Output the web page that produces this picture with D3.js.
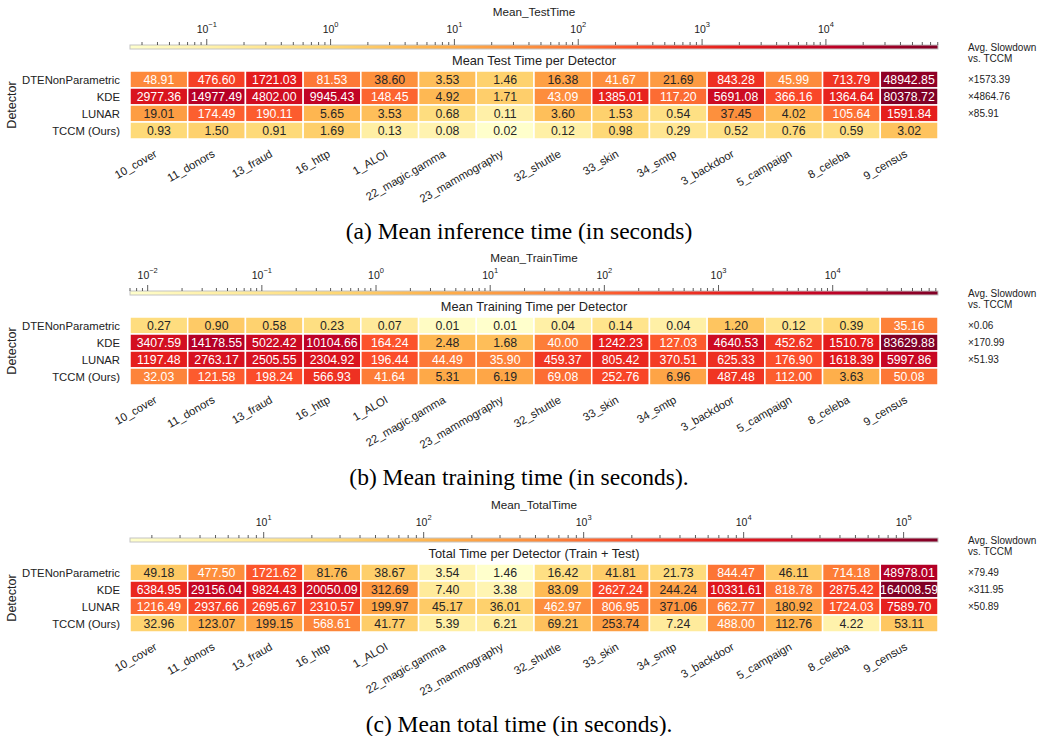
<!DOCTYPE html>
<html>
<head>
<meta charset="utf-8">
<script src="https://cdn.jsdelivr.net/npm/d3@7"></script>
<style>
  body { margin: 0; background: #fff; }
  text { font-family: "Liberation Sans", Arial, sans-serif; }
</style>
</head>
<body>
<script>
// data
var datasets = ["10_cover", "11_donors", "13_fraud", "16_http", "1_ALOI", "22_magic.gamma",
  "23_mammography", "32_shuttle", "33_skin", "34_smtp", "3_backdoor", "5_campaign", "8_celeba", "9_census"];
var detectors = ["DTENonParametric", "KDE", "LUNAR", "TCCM (Ours)"];

var testTime = [
  [48.91, 476.60, 1721.03, 81.53, 38.60, 3.53, 1.46, 16.38, 41.67, 21.69, 843.28, 45.99, 713.79, 48942.85],
  [2977.36, 14977.49, 4802.00, 9945.43, 148.45, 4.92, 1.71, 43.09, 1385.01, 117.20, 5691.08, 366.16, 1364.64, 80378.72],
  [19.01, 174.49, 190.11, 5.65, 3.53, 0.68, 0.11, 3.60, 1.53, 0.54, 37.45, 4.02, 105.64, 1591.84],
  [0.93, 1.50, 0.91, 1.69, 0.13, 0.08, 0.024, 0.12, 0.98, 0.29, 0.52, 0.76, 0.59, 3.02]
];
var trainTime = [
  [0.27, 0.90, 0.58, 0.23, 0.07, 0.01, 0.007, 0.04, 0.14, 0.04, 1.20, 0.12, 0.39, 35.16],
  [3407.59, 14178.55, 5022.42, 10104.66, 164.24, 2.48, 1.68, 40.00, 1242.23, 127.03, 4640.53, 452.62, 1510.78, 83629.88],
  [1197.48, 2763.17, 2505.55, 2304.92, 196.44, 44.49, 35.90, 459.37, 805.42, 370.51, 625.33, 176.90, 1618.39, 5997.86],
  [32.03, 121.58, 198.24, 566.93, 41.64, 5.31, 6.19, 69.08, 252.76, 6.96, 487.48, 112.00, 3.63, 50.08]
];
var totalTime = [
  [49.18, 477.50, 1721.62, 81.76, 38.67, 3.54, 1.46, 16.42, 41.81, 21.73, 844.47, 46.11, 714.18, 48978.01],
  [6384.95, 29156.04, 9824.43, 20050.09, 312.69, 7.40, 3.38, 83.09, 2627.24, 244.24, 10331.61, 818.78, 2875.42, 164008.59],
  [1216.49, 2937.66, 2695.67, 2310.57, 199.97, 45.17, 36.01, 462.97, 806.95, 371.06, 662.77, 180.92, 1724.03, 7589.70],
  [32.96, 123.07, 199.15, 568.61, 41.77, 5.39, 6.21, 69.21, 253.74, 7.24, 488.00, 112.76, 4.22, 53.11]
];
var testSlowdown = [1573.39, 4864.76, 85.91];
var trainSlowdown = [0.06, 170.99, 51.93];
var totalSlowdown = [79.49, 311.95, 50.89];

var cbTitles = ["Mean_TestTime", "Mean_TrainTime", "Mean_TotalTime"];
var titles = ["Mean Test Time per Detector", "Mean Training Time per Detector", "Total Time per Detector (Train + Test)"];
var captions = ["(a) Mean inference time (in seconds)", "(b) Mean training time (in seconds).", "(c) Mean total time (in seconds)."];

// YlOrRd (ColorBrewer 9)
var palette = ["#ffffcc", "#ffeda0", "#fed976", "#feb24c", "#fd8d3c", "#fc4e2a", "#e31a1c", "#bd0026", "#800026"];

var W = 1039, H = 736;
var x0 = 130, x1 = 938, rowH = 17;
var tops = [71, 317, 564];

var svg = d3.select("body").append("svg").attr("width", W).attr("height", H);
var defs = svg.append("defs");
var ylorrd = d3.piecewise(d3.interpolateRgb, palette);

var x = d3.scaleBand().domain(datasets).range([x0, x1]);

function lum(c) {
  var rgb = d3.rgb(c);
  var f = function(v) { v /= 255; return v <= 0.03928 ? v / 12.92 : Math.pow((v + 0.055) / 1.055, 2.4); };
  return 0.2126 * f(rgb.r) + 0.7152 * f(rgb.g) + 0.0722 * f(rgb.b);
}

var panels = [
  { values: testTime, slow: testSlowdown },
  { values: trainTime, slow: trainSlowdown },
  { values: totalTime, slow: totalSlowdown }
];

panels.forEach(function(p, i) {
  var top = tops[i];
  var g = svg.append("g");
  var ext = d3.extent(p.values.flat());
  var color = d3.scaleSequentialLog(ylorrd).domain(ext);
  var y = d3.scaleBand().domain(detectors).range([top, top + rowH * detectors.length]);
  var cb = d3.scaleLog().domain(ext).range([x0, x1]);

  // colorbar
  var grad = defs.append("linearGradient").attr("id", "grad" + i)
    .attr("x1", "0%").attr("x2", "100%").attr("y1", "0%").attr("y2", "0%");
  d3.range(0, 1.0001, 0.02).forEach(function(t) {
    grad.append("stop").attr("offset", (t * 100) + "%").attr("stop-color", ylorrd(t));
  });
  var barY = top - 26;
  g.append("rect").attr("x", x0).attr("y", barY).attr("width", x1 - x0).attr("height", 4)
    .attr("fill", "url(#grad" + i + ")").attr("stroke", "#c4c4c4").attr("stroke-width", 1);

  var ticks = [];
  var e0 = Math.floor(Math.log10(ext[0])), e1 = Math.ceil(Math.log10(ext[1]));
  for (var e = e0; e <= e1; e++) {
    for (var k = 1; k <= 9; k++) {
      var v = k * Math.pow(10, e);
      if (v >= ext[0] && v <= ext[1]) ticks.push({ v: v, major: k === 1, e: e });
    }
  }
  g.selectAll(".tick").data(ticks).enter().append("line")
    .attr("x1", function(d) { return cb(d.v); }).attr("x2", function(d) { return cb(d.v); })
    .attr("y1", barY).attr("y2", function(d) { return barY - (d.major ? 6 : 3); })
    .attr("stroke", "#333").attr("stroke-width", 0.8);

  var lab = g.selectAll(".tlab").data(ticks.filter(function(d) { return d.major; })).enter().append("text")
    .attr("x", function(d) { return cb(d.v); }).attr("y", barY - 12)
    .attr("text-anchor", "middle").attr("font-size", 10.5).attr("fill", "#222");
  lab.append("tspan").text("10");
  lab.append("tspan").attr("dy", -6).attr("font-size", 7.5)
    .text(function(d) { return d.e < 0 ? "\u2212" + (-d.e) : d.e; });

  g.append("text").attr("x", (x0 + x1) / 2).attr("y", top - 55).attr("text-anchor", "middle")
    .attr("font-size", 11.7).attr("fill", "#222").text(cbTitles[i]);
  g.append("text").attr("x", (x0 + x1) / 2).attr("y", top - 6).attr("text-anchor", "middle")
    .attr("font-size", 12.8).attr("fill", "#222").text(titles[i]);

  // heatmap cells
  var cells = [];
  p.values.forEach(function(row, r) {
    row.forEach(function(v, c) { cells.push({ det: detectors[r], ds: datasets[c], v: v }); });
  });
  g.selectAll(".cell").data(cells).enter().append("rect")
    .attr("x", function(d) { return x(d.ds); }).attr("y", function(d) { return y(d.det); })
    .attr("width", x.bandwidth()).attr("height", y.bandwidth())
    .attr("fill", function(d) { return color(d.v); })
    .attr("stroke", "#fff").attr("stroke-width", 1.5);
  g.selectAll(".val").data(cells).enter().append("text")
    .attr("x", function(d) { return x(d.ds) + x.bandwidth() / 2; })
    .attr("y", function(d) { return y(d.det) + y.bandwidth() / 2; })
    .attr("dy", "0.36em").attr("text-anchor", "middle").attr("font-size", 12.3)
    .attr("fill", function(d) { return lum(color(d.v)) > 0.408 ? "#262626" : "#fff"; })
    .text(function(d) { return d.v.toFixed(2); });

  // row labels
  g.selectAll(".rl").data(detectors).enter().append("text")
    .attr("x", 120).attr("y", function(d) { return y(d) + y.bandwidth() / 2; })
    .attr("dy", "0.36em").attr("text-anchor", "end").attr("font-size", 11.3).attr("fill", "#222")
    .text(function(d) { return d; });
  g.append("text").attr("transform", "translate(16," + (top + rowH * 2) + ") rotate(-90)")
    .attr("text-anchor", "middle").attr("font-size", 12.5).attr("fill", "#222").text("Detector");

  // column labels
  g.selectAll(".cl").data(datasets).enter().append("text")
    .attr("transform", function(d) {
      return "translate(" + (x(d) + x.bandwidth() / 2 - 1) + "," + (top + rowH * 4 + 17) + ") rotate(-30)";
    })
    .attr("text-anchor", "end").attr("font-size", 11.3).attr("fill", "#222")
    .text(function(d) { return d; });

  // slowdown annotations
  g.append("text").attr("x", 968).attr("y", top - 20).attr("font-size", 10).attr("fill", "#222").text("Avg. Slowdown");
  g.append("text").attr("x", 968).attr("y", top - 9).attr("font-size", 10).attr("fill", "#222").text("vs. TCCM");
  g.selectAll(".sd").data(p.slow).enter().append("text")
    .attr("x", 968).attr("y", function(d, r) { return y(detectors[r]) + y.bandwidth() / 2; })
    .attr("dy", "0.36em").attr("font-size", 10).attr("fill", "#222")
    .text(function(d) { return "\u00d7" + d.toFixed(2); });

  // caption
  svg.append("text").attr("x", 519).attr("y", top + 168).attr("text-anchor", "middle")
    .style("font-family", "'Liberation Serif', 'Times New Roman', serif").attr("font-size", 23.5)
    .attr("fill", "#000").text(captions[i]);
});
</script>
</body>
</html>
